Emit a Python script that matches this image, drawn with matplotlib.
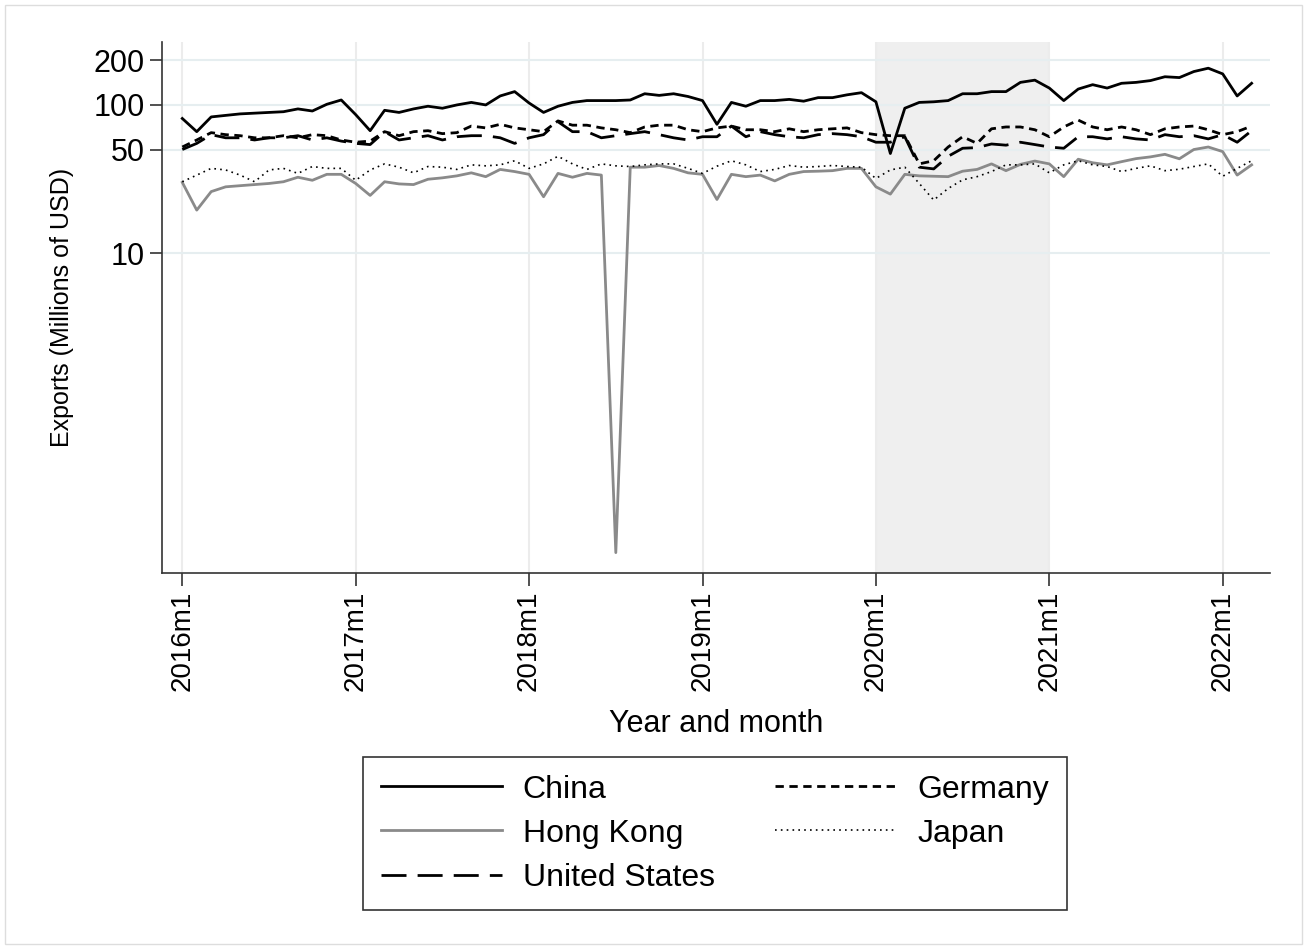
import numpy as np
import matplotlib
matplotlib.use('Agg')
import matplotlib.pyplot as plt
from matplotlib.patches import Rectangle

plt.rcParams['font.family'] = ['Liberation Sans', 'DejaVu Sans']

### Data (monthly, 2016m1 .. 2022m3) ##########################################

years = [2016, 2017, 2018, 2019, 2020, 2021, 2022]
tick_labels = [str(y) + 'm1' for y in years]

china = [81, 66, 83, 85, 87, 88, 89, 90, 94, 91, 101, 108,
         86, 67, 92, 89, 94, 98, 95, 100, 104, 100, 115, 123,
         103, 89, 98, 104, 107, 107, 107, 108, 119, 116, 119, 114,
         107, 74, 104, 98, 107, 107, 109, 106, 112, 112, 117, 121,
         105, 47, 95, 104, 105, 107, 119, 119, 123, 123, 142, 147,
         130, 107, 128, 137, 130, 140, 142, 146, 155, 153, 168, 177,
         162, 115, 140]

hongkong = [30, 19.5, 26, 28, 28.5, 29, 29.5, 30.3, 32.5, 31, 34, 34,
            29.5, 24.5, 30.3, 29.3, 29, 31.5, 32.2, 33.2, 34.8, 32.8, 36.7, 35.5,
            34, 24, 34.5, 32.5, 34.5, 33.6, 0.095, 38, 38, 39, 37.3, 34.8,
            34, 23, 34, 32.8, 33.6, 30.7, 34, 35.5, 35.7, 36, 37.3, 37.3,
            28, 25, 34, 33.2, 33, 32.8, 35.7, 36.7, 40, 36, 39.7, 41.8,
            40, 32.8, 43, 40.7, 39.4, 41.4, 43.4, 44.6, 46.4, 43.3, 50, 52,
            48.4, 33.6, 39.4]

germany = [52, 58, 65, 63, 62, 60, 60, 62, 60, 63, 62, 58,
           56, 57, 66, 62, 66, 67, 64, 65, 72, 70, 74, 70,
           68, 66, 78, 73, 73, 70, 68, 65, 71, 73, 73, 68,
           66, 70, 72, 68, 68, 66, 69, 66, 68, 69, 70, 65,
           63, 62, 62, 40, 42, 52, 61, 55, 69, 71, 71, 68,
           61, 71, 79, 71, 68, 71, 68, 63, 69, 71, 72, 68,
           63, 66, 72]

japan = [30.3, 33.6, 37.3, 36.4, 33.6, 30.3, 36.4, 37.3, 34.5, 38.4, 37.3, 37.3,
         31, 36.4, 40, 38, 34.8, 38.4, 38, 36.7, 39.4, 38.8, 39.4, 42,
         37.3, 40, 45, 40, 36.7, 40, 38.8, 38.4, 39.4, 40, 40, 37.3,
         34.5, 38.6, 42, 39.4, 35.5, 36.7, 39, 38, 38.4, 39, 38.4, 38,
         31.9, 36.4, 38, 29.5, 22.8, 27.3, 31.2, 32.8, 35.5, 39.4, 39.4, 40,
         34.8, 39.4, 42, 39.4, 38.4, 35.5, 37.3, 38.8, 36, 36.8, 38.4, 40,
         33, 37.3, 42]

usa = [50, 55, 63, 60, 60, 58, 60, 60, 62, 58, 60, 57,
       55, 54, 66, 58, 60, 62, 58, 61, 62, 62, 60, 55,
       60, 63, 77, 66, 66, 60, 62, 64, 66, 63, 60, 58,
       61, 61, 72, 61, 66, 63, 61, 60, 63, 64, 63, 61,
       56, 56, 61, 38, 37, 45, 51, 51.5, 54.5, 53.5, 56, 54,
       52, 51, 61, 61, 59, 61, 59, 58, 63, 61, 62, 59,
       63, 56, 67]

months = np.arange(len(china))
shade_start, shade_end = 48, 60   # 2020m1 .. 2021m1

### Plot ######################################################################

fig = plt.figure(figsize=(13.07, 9.49), dpi=100)
ax = fig.add_axes([0.124, 0.396, 0.848, 0.560])

ax.axvspan(shade_start, shade_end, color='#efefef', lw=0, zorder=0)

ax.plot(months, china, color='black', lw=2, label='China')
ax.plot(months, hongkong, color='#8a8a8a', lw=2, label='Hong Kong')
ax.plot(months, usa, color='black', lw=2, dashes=(9, 4), label='United States')
ax.plot(months, germany, color='black', lw=2, dashes=(3, 2), label='Germany')
ax.plot(months, japan, color='black', lw=1.2, dashes=(1, 2.5), label='Japan')

ax.set_yscale('log')
ax.set_ylim(0.069, 267)
ax.set_xlim(-1.4, 75.3)

ax.set_yticks([10, 50, 100, 200])
ax.set_yticklabels(['10', '50', '100', '200'], fontsize=22)
ax.yaxis.set_minor_locator(matplotlib.ticker.NullLocator())
ax.set_xticks(np.arange(0, 73, 12))
ax.set_xticklabels(tick_labels, rotation=90, fontsize=20)
ax.tick_params(axis='both', direction='out', length=9, width=1.2, color='#333333')

ax.grid(True, axis='y', color='#e6eef0', lw=1.5, zorder=0)
ax.grid(True, axis='x', color='#ececec', lw=1.5, zorder=0)
ax.set_axisbelow(True)

for side in ['top', 'right']:
    ax.spines[side].set_visible(False)
for side in ['left', 'bottom']:
    ax.spines[side].set_linewidth(1.2)
    ax.spines[side].set_color('#333333')

ax.set_ylabel('Exports (Millions of USD)', fontsize=18, labelpad=14)
ax.set_xlabel('Year and month', fontsize=22, labelpad=13)

leg = fig.legend(loc='upper center', bbox_to_anchor=(0.547, 0.2023), ncol=2,
                 fontsize=23, frameon=True, fancybox=False, edgecolor='black',
                 handlelength=3.8, columnspacing=1.9, labelspacing=0.44,
                 borderpad=0.55, handletextpad=0.65, borderaxespad=0)
leg.get_frame().set_linewidth(1.2)

fig.patches.append(Rectangle((0.004, 0.005), 0.992, 0.99, transform=fig.transFigure,
                             fill=False, edgecolor='#dddddd', lw=1))

fig.savefig('out.png', dpi=100)
